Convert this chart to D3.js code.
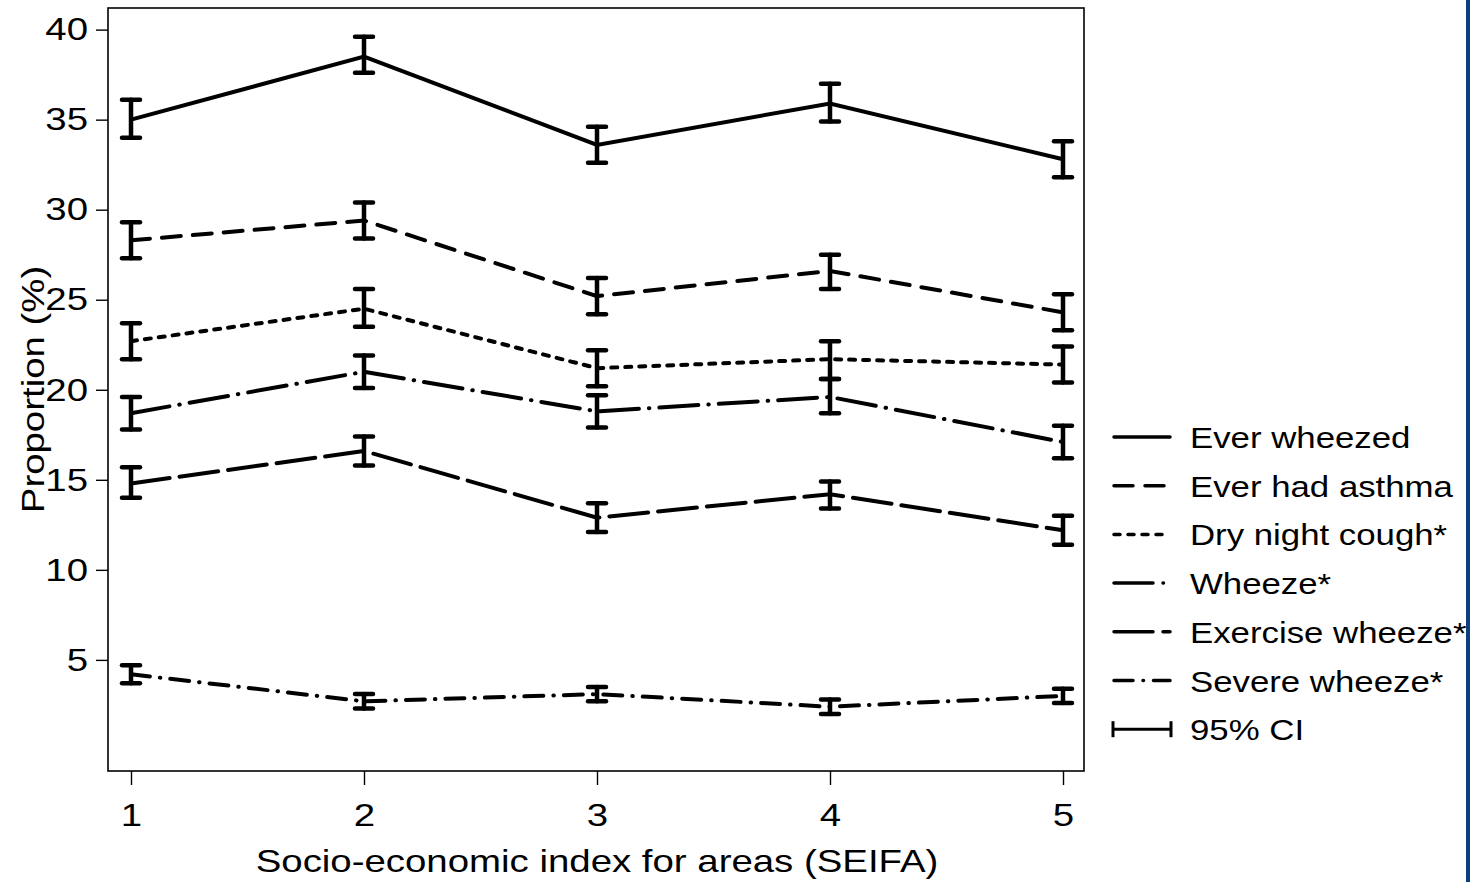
<!DOCTYPE html>
<html>
<head>
<meta charset="utf-8">
<script src="https://cdn.jsdelivr.net/npm/d3@7"></script>
<style>
  body { margin: 0; background: #fff; }
  svg { display: block; font-family: "Liberation Sans", Arial, sans-serif; }
</style>
</head>
<body>
<svg width="1470" height="882"></svg>
<script>
// SEIFA quintiles
const seifa = [1, 2, 3, 4, 5];
const yTicks = [5, 10, 15, 20, 25, 30, 35, 40];

const seriesNames = ["Ever wheezed", "Ever had asthma", "Dry night cough*", "Wheeze*", "Exercise wheeze*", "Severe wheeze*"];

const everWheezed   = [35.0, 38.5, 33.6, 35.9, 32.8];
const everWheezedLo = [34.0, 37.6, 32.6, 34.9, 31.8];
const everWheezedHi = [36.1, 39.6, 34.6, 37.0, 33.8];

const everAsthma   = [28.3, 29.4, 25.2, 26.6, 24.3];
const everAsthmaLo = [27.3, 28.4, 24.2, 25.6, 23.3];
const everAsthmaHi = [29.3, 30.4, 26.2, 27.5, 25.3];

const dryCough   = [22.7, 24.5, 21.2, 21.7, 21.4];
const dryCoughLo = [21.7, 23.5, 20.2, 20.6, 20.4];
const dryCoughHi = [23.7, 25.6, 22.2, 22.7, 22.4];

const wheeze   = [18.7, 21.0, 18.8, 19.6, 17.1];
const wheezeLo = [17.8, 20.1, 17.9, 18.7, 16.2];
const wheezeHi = [19.6, 21.9, 19.7, 20.6, 18.0];

const exercise   = [14.8, 16.6, 12.9, 14.2, 12.2];
const exerciseLo = [14.0, 15.8, 12.1, 13.4, 11.4];
const exerciseHi = [15.7, 17.4, 13.7, 14.9, 13.0];

const severe   = [4.2, 2.7, 3.1, 2.4, 3.0];
const severeLo = [3.7, 2.3, 2.7, 2.0, 2.6];
const severeHi = [4.7, 3.1, 3.5, 2.8, 3.4];

const svg = d3.select('svg')

const plotL = 108, plotR = 1084, plotT = 8, plotB = 771
const stretch = 1.2   // the original text runs a bit wide

const x = d3.scaleLinear().domain([1, 5]).range([131, 1063])
const y = d3.scaleLinear().domain([-1.17, 41.2]).range([plotB, plotT])

// line styles, one per series
const dashes = ["none", "19,12", "6,8", "39,10,0.5,10", "39,10", "19,10,0.5,10"]

const allSeries = [
  [everWheezed, everWheezedLo, everWheezedHi],
  [everAsthma, everAsthmaLo, everAsthmaHi],
  [dryCough, dryCoughLo, dryCoughHi],
  [wheeze, wheezeLo, wheezeHi],
  [exercise, exerciseLo, exerciseHi],
  [severe, severeLo, severeHi]
].map((s, i) => ({
  name: seriesNames[i],
  dash: dashes[i],
  pts: seifa.map((q, j) => ({ q, v: s[0][j], lo: s[1][j], hi: s[2][j] }))
}))

// frame
svg.append('rect')
  .attr('x', plotL).attr('y', plotT)
  .attr('width', plotR - plotL).attr('height', plotB - plotT)
  .attr('fill', 'none').attr('stroke', '#000').attr('stroke-width', 1.6)

// y axis
const yAxis = svg.append('g')
  .attr('transform', `translate(${plotL},0)`)
  .call(d3.axisLeft(y).tickValues(yTicks).tickSize(12).tickPadding(8))
yAxis.select('.domain').remove()
yAxis.selectAll('line').attr('stroke-width', 1.4)
yAxis.selectAll('text').attr('font-size', 32).attr('fill', '#000')
  .attr('font-family', '"Liberation Sans", Arial, sans-serif')
  .attr('x', -20 / stretch)
  .attr('transform', `scale(${stretch},1)`)

// x axis
const xAxis = svg.append('g')
  .attr('transform', `translate(0,${plotB})`)
  .call(d3.axisBottom(x).tickValues(seifa).tickFormat(d3.format('d')).tickSize(14).tickPadding(18))
xAxis.select('.domain').remove()
xAxis.selectAll('line').attr('stroke-width', 1.4)
xAxis.selectAll('text').attr('font-size', 32).attr('fill', '#000')
  .attr('font-family', '"Liberation Sans", Arial, sans-serif')
  .attr('transform', `scale(${stretch},1)`)

svg.append('text')
  .attr('transform', `translate(597,872) scale(${stretch},1)`)
  .attr('text-anchor', 'middle')
  .attr('font-size', 32)
  .text('Socio-economic index for areas (SEIFA)')

svg.append('text')
  .attr('transform', `translate(44,${(plotT + plotB) / 2}) rotate(-90) scale(${stretch},1)`)
  .attr('text-anchor', 'middle')
  .attr('font-size', 32)
  .text('Proportion (%)')

const line = d3.line().x(d => x(d.q)).y(d => y(d.v))

const series = svg.selectAll('.series')
  .data(allSeries)
  .enter().append('g')
  .classed('series', true)

series.append('path')
  .attr('d', d => line(d.pts))
  .attr('fill', 'none')
  .attr('stroke', '#000')
  .attr('stroke-width', 4)
  .attr('stroke-dasharray', d => d.dash)
  .attr('stroke-linecap', 'round')

// error bars
const capW = 9
series.each(function(s) {
  const g = d3.select(this)
  const eb = g.selectAll('.eb').data(s.pts).enter().append('g').classed('eb', true)
  eb.append('line')
    .attr('x1', d => x(d.q)).attr('x2', d => x(d.q))
    .attr('y1', d => y(d.lo)).attr('y2', d => y(d.hi))
  eb.append('line')
    .attr('x1', d => x(d.q) - capW).attr('x2', d => x(d.q) + capW)
    .attr('y1', d => y(d.lo)).attr('y2', d => y(d.lo))
  eb.append('line')
    .attr('x1', d => x(d.q) - capW).attr('x2', d => x(d.q) + capW)
    .attr('y1', d => y(d.hi)).attr('y2', d => y(d.hi))
  eb.selectAll('line').attr('stroke', '#000').attr('stroke-width', 4.5).attr('stroke-linecap', 'round')
})

// legend
const legendNames = seriesNames.concat(['95% CI'])
const lg = svg.append('g')
const rows = lg.selectAll('g').data(legendNames).enter().append('g')
  .attr('transform', (d, i) => `translate(1112,${437 + i * 48.7})`)

rows.filter((d, i) => i < 6).append('line')
  .attr('x1', 2).attr('x2', 58).attr('y1', 0).attr('y2', 0)
  .attr('stroke', '#000').attr('stroke-width', 3.5)
  .attr('stroke-linecap', 'round')
  .attr('stroke-dasharray', (d, i) => dashes[i])

const ci = rows.filter((d, i) => i === 6)
ci.append('line').attr('x1', 0).attr('x2', 60).attr('y1', 0).attr('y2', 0)
ci.append('line').attr('x1', 1).attr('x2', 1).attr('y1', -8).attr('y2', 8)
ci.append('line').attr('x1', 59).attr('x2', 59).attr('y1', -8).attr('y2', 8)
ci.selectAll('line').attr('stroke', '#000').attr('stroke-width', 3)

rows.append('text')
  .attr('transform', `translate(78,11) scale(${stretch},1)`)
  .attr('font-size', 29)
  .text(d => d)

// blue edge on the right
svg.append('rect')
  .attr('x', 1466).attr('y', 0).attr('width', 4).attr('height', 882)
  .attr('fill', '#0b3f80')
</script>
</body>
</html>
